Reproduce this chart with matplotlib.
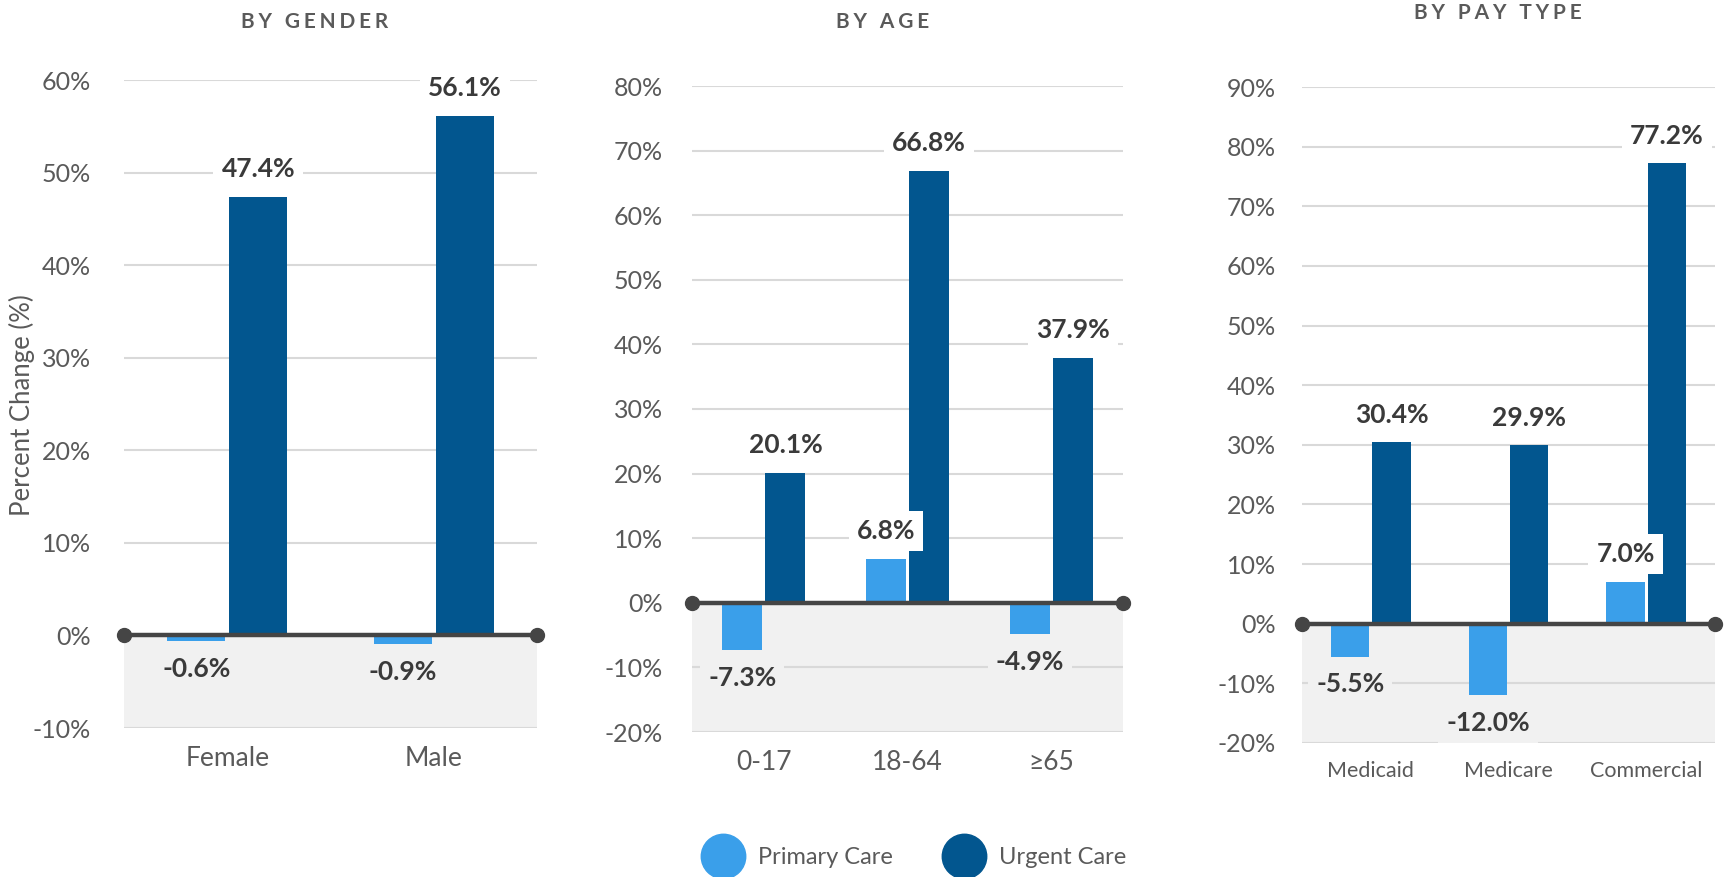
import numpy as np
import matplotlib.pyplot as plt
from matplotlib.lines import Line2D

plt.rcParams['font.family'] = ['Lato', 'DejaVu Sans']

# Data
gender_cats = ['Female', 'Male']
gender_primary = [-0.6, -0.9]
gender_urgent = [47.4, 56.1]

age_cats = ['0-17', '18-64', '≥65']
age_primary = [-7.3, 6.8, -4.9]
age_urgent = [20.1, 66.8, 37.9]

pay_cats = ['Medicaid', 'Medicare', 'Commercial']
pay_primary = [-5.5, -12.0, 7.0]
pay_urgent = [30.4, 29.9, 77.2]

gender_ticks = list(range(-10, 61, 10))
age_ticks = list(range(-20, 81, 10))
pay_ticks = list(range(-20, 91, 10))

LIGHT = '#3a9fea'
DARK = '#02568f'
BAND = '#f1f1f1'
GRID = '#d9d9d9'
TXT = '#5a5a5a'
W, H = 1727, 877

fig = plt.figure(figsize=(W / 100, H / 100), dpi=100)


def px_axes(x0, x1, ytop, ybot):
    return fig.add_axes([x0 / W, 1 - ybot / H, (x1 - x0) / W, (ybot - ytop) / H])


def panel(ax, cats, primary, urgent, ticks, xfs, ypad):
    n = len(cats)
    x = np.arange(n)
    ymin, ymax = ticks[0], ticks[-1]
    ax.set_xlim(-0.5, n - 0.5)
    ax.set_ylim(ymin, ymax)
    ax.axhspan(ymin, 0, color=BAND, zorder=0, lw=0)
    ax.set_yticks(ticks)
    ax.set_yticklabels([f"{t}%" for t in ticks])
    ax.yaxis.grid(True, color=GRID, lw=1.5, zorder=1)
    ax.set_axisbelow(True)
    for s in ax.spines.values():
        s.set_visible(False)
    ax.tick_params(axis='y', length=0, pad=ypad, labelsize=18, labelcolor=TXT)
    ax.tick_params(axis='x', length=0, pad=13, labelsize=xfs, labelcolor=TXT)
    ax.set_xticks(x)
    ax.set_xticklabels(cats)

    ax.bar(x - 0.15, primary, 0.28, color=LIGHT, zorder=2)
    ax.bar(x + 0.15, urgent, 0.28, color=DARK, zorder=2)
    ax.plot([-0.5, n - 0.5], [0, 0], color='#454545', lw=3.2, marker='o',
            ms=10, clip_on=False, zorder=4)

    for xs, vals in ((x - 0.15, primary), (x + 0.15, urgent)):
        for xi, v in zip(xs, vals):
            off = 20 if v >= 0 else -20
            ax.annotate(f"{v:.1f}%", (xi, v), xytext=(0, off),
                        textcoords='offset points', ha='center', va='center',
                        fontsize=19, fontweight='bold', color='#3a3a3a',
                        bbox=dict(boxstyle='square,pad=0.3',
                                  fc='white' if v >= 0 else BAND, ec='none'),
                        zorder=5)


def spaced(s):
    # letter-spaced panel titles
    return '\u2009\u200a'.join(s)


ax1 = px_axes(124, 537, 80, 728)
panel(ax1, gender_cats, gender_primary, gender_urgent, gender_ticks, 19, 24)
ax2 = px_axes(692, 1123, 86, 732)
panel(ax2, age_cats, age_primary, age_urgent, age_ticks, 19, 21)
ax3 = px_axes(1302, 1715, 87, 743)
panel(ax3, pay_cats, pay_primary, pay_urgent, pay_ticks, 15.5, 19)

for xc, yc, t in ((315, 22, 'BY GENDER'), (883, 22, 'BY AGE'), (1498, 13, 'BY PAY TYPE')):
    fig.text(xc / W, 1 - yc / H, spaced(t), ha='center', va='center',
             fontsize=15, fontweight='bold', color=TXT)

fig.text(22 / W, 1 - 405 / H, 'Percent Change (%)', rotation=90,
         ha='center', va='center', fontsize=18.5, color=TXT)

handles = [Line2D([], [], ls='none', marker='o', ms=32, color=LIGHT),
           Line2D([], [], ls='none', marker='o', ms=32, color=DARK)]
fig.legend(handles, ['Primary Care', 'Urgent Care'], loc='center',
           bbox_to_anchor=(913 / W, 1 - 858 / H), ncol=2, frameon=False,
           fontsize=17, labelcolor=TXT, handletextpad=0.5, columnspacing=2.0)

fig.savefig('out.png', dpi=100)
